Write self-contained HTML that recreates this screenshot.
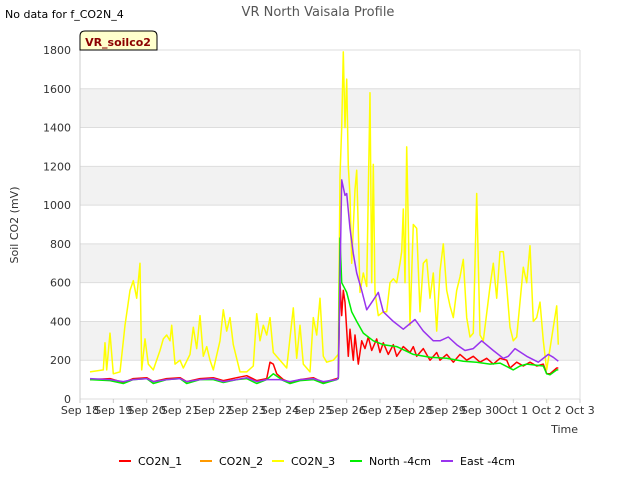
<!DOCTYPE html>
<html><head><meta charset="utf-8"><style>
body{margin:0;background:#fff;font-family:"Liberation Sans",sans-serif}
svg text{font-family:"DejaVu Sans","Liberation Sans",sans-serif}
</style></head><body>
<svg id="c" width="640" height="480" xmlns="http://www.w3.org/2000/svg">
<rect width="640" height="480" fill="#fff"/>
<text x="5" y="18" font-size="11">No data for f_CO2N_4</text>
<text x="318" y="16" font-size="13" fill="#555" text-anchor="middle">VR North Vaisala Profile</text>
<g id="grid"></g>
<g id="axes"></g>
<g id="series"></g>
<path d="M80,50 L80,36 Q80,31 85,31 L152,31 Q157,31 157,36 L157,50 Z" fill="#ffffcc" stroke="#000"/>
<text x="118" y="46" font-size="11" font-weight="bold" fill="#8b0000" text-anchor="middle">VR_soilco2</text>
<text x="18" y="225" font-size="11" fill="#333" text-anchor="middle" transform="rotate(-90 18 225)">Soil CO2 (mV)</text>
<text x="578" y="433" font-size="11" fill="#333" text-anchor="end">Time</text>
<g id="legend"></g>
</svg>
<script>
const xTickLabels=["Sep 18","Sep 19","Sep 20","Sep 21","Sep 22","Sep 23","Sep 24","Sep 25","Sep 26","Sep 27","Sep 28","Sep 29","Sep 30","Oct 1","Oct 2","Oct 3"];
const yTicks=[0,200,400,600,800,1000,1200,1400,1600,1800];
const seriesNames=["CO2N_1","CO2N_2","CO2N_3","North -4cm","East -4cm"];
const seriesColors=["#ff0000","#ff9900","#ffff00","#00ee00","#9933ee"];
const co2n1=[[0.3,100],[0.9,105],[1.3,85],[1.6,105],[2.0,110],[2.2,90],[2.6,105],[3.0,110],[3.2,90],[3.6,105],[4.0,110],[4.3,95],[4.7,110],[5.0,120],[5.3,95],[5.6,105],[5.7,190],[5.8,180],[5.9,130],[6.1,100],[6.3,85],[6.6,100],[7.0,110],[7.3,85],[7.7,105],[7.75,110],[7.8,600],[7.85,430],[7.9,560],[7.95,500],[8.05,220],[8.1,360],[8.2,200],[8.25,330],[8.35,180],[8.45,300],[8.55,260],[8.65,320],[8.75,250],[8.9,310],[9.0,240],[9.1,290],[9.25,230],[9.4,280],[9.5,220],[9.7,270],[9.9,240],[10.0,270],[10.1,220],[10.3,260],[10.5,200],[10.7,240],[10.8,200],[11.0,230],[11.2,190],[11.4,230],[11.6,200],[11.8,220],[12.0,190],[12.2,210],[12.4,180],[12.6,210],[12.8,200],[12.9,160],[13.1,190],[13.3,170],[13.5,190],[13.7,170],[13.9,180],[14.0,130],[14.1,130],[14.3,160],[14.35,160]];
const co2n2=[];
const co2n3=[[0.3,140],[0.7,150],[0.75,290],[0.8,150],[0.9,340],[1.0,130],[1.2,140],[1.35,380],[1.5,560],[1.6,610],[1.7,520],[1.8,700],[1.85,150],[1.95,310],[2.05,180],[2.2,150],[2.4,250],[2.5,310],[2.6,330],[2.7,300],[2.75,380],[2.85,180],[3.0,200],[3.1,160],[3.3,230],[3.4,370],[3.5,260],[3.6,430],[3.7,220],[3.8,270],[3.9,200],[4.0,150],[4.2,300],[4.3,460],[4.4,350],[4.5,420],[4.6,280],[4.8,140],[5.0,140],[5.2,170],[5.3,440],[5.4,300],[5.5,380],[5.6,330],[5.7,420],[5.8,240],[6.0,200],[6.2,160],[6.4,470],[6.5,210],[6.6,380],[6.7,180],[6.9,140],[7.0,420],[7.1,330],[7.2,520],[7.3,220],[7.4,190],[7.6,200],[7.75,230],[7.8,1150],[7.85,1400],[7.9,1790],[7.95,1400],[8.0,1650],[8.05,1200],[8.1,1050],[8.15,700],[8.25,1080],[8.3,1180],[8.4,550],[8.5,650],[8.6,580],[8.7,1580],[8.75,600],[8.8,1210],[8.85,550],[8.95,430],[9.1,450],[9.2,450],[9.3,600],[9.4,620],[9.5,600],[9.6,700],[9.65,760],[9.7,980],[9.75,600],[9.8,1300],[9.85,900],[9.9,380],[10.0,900],[10.1,880],[10.2,450],[10.3,700],[10.4,720],[10.5,520],[10.6,650],[10.7,350],[10.8,660],[10.9,800],[11.0,560],[11.1,480],[11.2,420],[11.3,560],[11.4,630],[11.5,720],[11.6,420],[11.7,320],[11.8,340],[11.9,1060],[12.0,330],[12.1,300],[12.3,580],[12.4,700],[12.5,520],[12.6,760],[12.7,760],[12.8,580],[12.9,370],[13.0,300],[13.1,320],[13.3,680],[13.4,600],[13.5,790],[13.6,400],[13.7,420],[13.8,500],[13.9,300],[14.0,150],[14.1,260],[14.2,370],[14.3,480],[14.35,280]];
const north4=[[0.3,100],[0.9,95],[1.3,80],[1.6,100],[2.0,105],[2.2,80],[2.6,100],[3.0,105],[3.2,80],[3.6,100],[4.0,100],[4.3,85],[4.7,100],[5.0,105],[5.3,80],[5.6,100],[5.8,130],[6.1,95],[6.3,80],[6.6,95],[7.0,100],[7.3,80],[7.7,100],[7.75,105],[7.8,830],[7.85,600],[8.0,550],[8.15,450],[8.3,400],[8.5,340],[8.8,300],[9.1,280],[9.5,270],[10.0,230],[10.5,215],[11.0,210],[11.5,195],[11.9,190],[12.3,180],[12.6,185],[13.0,150],[13.2,170],[13.4,180],[13.9,170],[14.0,130],[14.1,125],[14.3,150],[14.35,150]];
const east4=[[0.3,105],[0.9,100],[1.3,90],[1.6,100],[2.0,105],[2.2,90],[2.6,100],[3.0,105],[3.2,90],[3.6,100],[4.0,105],[4.3,90],[4.7,100],[5.0,110],[5.3,90],[5.6,100],[6.0,100],[6.3,90],[6.6,100],[7.0,105],[7.3,90],[7.7,100],[7.75,110],[7.85,1130],[7.95,1050],[8.0,1060],[8.1,880],[8.2,750],[8.3,650],[8.45,560],[8.6,460],[8.8,510],[8.95,550],[9.1,450],[9.4,400],[9.7,360],[10.05,410],[10.3,350],[10.6,300],[10.8,300],[11.05,320],[11.3,280],[11.55,250],[11.8,260],[12.05,300],[12.4,250],[12.7,210],[12.85,220],[13.05,260],[13.4,220],[13.75,190],[14.05,230],[14.2,215],[14.35,195]];
const allSeries=[co2n1,co2n2,co2n3,north4,east4];
const NS="http://www.w3.org/2000/svg";
const L=80,R=580,T=50,B=399,YMAX=1800,DAYS=15;
function xs(d){return L+(R-L)*d/DAYS;}
function ys(v){return B-(B-T)*v/YMAX;}
function mk(t,a,p){const e=document.createElementNS(NS,t);for(const k in a)e.setAttribute(k,a[k]);document.getElementById(p).appendChild(e);return e;}
for(let i=0;i<yTicks.length-1;i++){if(i%2===1){const r=mk('rect',{x:L,y:ys(yTicks[i+1]),width:R-L,height:ys(yTicks[i])-ys(yTicks[i+1]),fill:'#f2f2f2'},'grid');

}}
yTicks.forEach(v=>{const l=mk('line',{x1:L,x2:R,y1:ys(v),y2:ys(v),stroke:'#ddd'},'grid');


const t=mk('text',{x:L-9,y:ys(v)+4,'font-size':11,fill:'#333','text-anchor':'end'},'axes');t.textContent=v;

});
mk('line',{x1:R,x2:R,y1:T,y2:B,stroke:'#ddd'},'grid');
mk('line',{x1:L,x2:L,y1:T,y2:B,stroke:'#ccc'},'grid');
xTickLabels.forEach((s,i)=>{const t=mk('text',{x:xs(i),y:414,'font-size':11,fill:'#333','text-anchor':'middle'},'axes');t.textContent=s;


mk('line',{x1:xs(i),x2:xs(i),y1:B,y2:B+4,stroke:'#ccc'},'axes');});
allSeries.forEach((d,i)=>{if(!d.length)return;const p=mk('polyline',{points:d.map(q=>xs(q[0]).toFixed(1)+','+ys(q[1]).toFixed(1)).join(' '),fill:'none',stroke:seriesColors[i],'stroke-width':1.5,'stroke-linejoin':'round'},'series');

});
const sg=document.getElementById('series');sg.insertBefore(sg.children[1],sg.children[0]);
const lx=[119,200,272,350,441];
seriesNames.forEach((n,i)=>{const g=mk('g',{},'legend');


const l=document.createElementNS(NS,'line');l.setAttribute('x1',lx[i]);l.setAttribute('x2',lx[i]+12);l.setAttribute('y1',461);l.setAttribute('y2',461);l.setAttribute('stroke',seriesColors[i]);l.setAttribute('stroke-width',2);g.appendChild(l);
const t=document.createElementNS(NS,'text');t.setAttribute('x',lx[i]+19);t.setAttribute('y',465);t.setAttribute('font-size',11);t.textContent=n;g.appendChild(t);});
</script>
</body></html>
